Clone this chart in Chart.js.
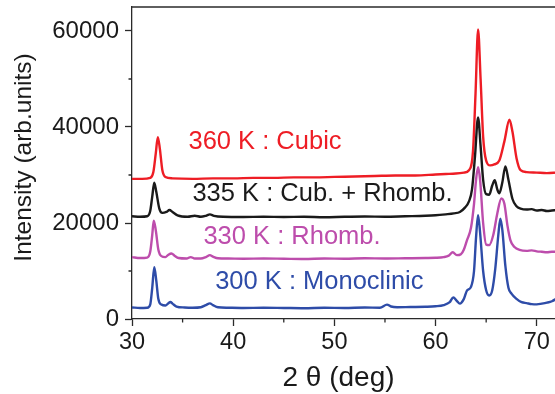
<!DOCTYPE html>
<html>
<head>
<meta charset="utf-8">
<script src="https://cdn.jsdelivr.net/npm/chart.js@4"></script>
<style>
    html, body { margin: 0; padding: 0; background: #fff; overflow: hidden; }
    #cadre { width: 558px; height: 394px; }
</style>
</head>
<body>
<div id="cadre"><canvas id="xrdChart"></canvas></div>
<script>
const angles300 = [30, 30.8, 31.5, 31.8, 32.0, 32.2, 32.4, 32.6, 32.9, 33.3, 33.6, 33.8, 34.0, 34.4, 35.2, 36.0, 36.8, 37.3, 37.7, 38.0, 38.5, 39.5, 41, 43, 45, 47, 49, 51, 53, 54.5, 55.2, 55.6, 56.2, 57.5, 59, 60, 60.8, 61.4, 61.75, 62.1, 62.4, 62.8, 63.1, 63.5, 63.8, 64.0, 64.2, 64.4, 64.7, 65.0, 65.3, 65.6, 65.9, 66.2, 66.4, 66.6, 66.9, 67.2, 67.5, 68.0, 68.5, 69.0, 69.5, 70.0, 70.5, 71.0, 71.5, 72];
const intensite300 = [2400, 2300, 2350, 3000, 6500, 10800, 8000, 4200, 3000, 2800, 3300, 3550, 3200, 2600, 2400, 2350, 2450, 2900, 3250, 2900, 2450, 2350, 2300, 2350, 2300, 2250, 2350, 2300, 2400, 2350, 3000, 2600, 2450, 2500, 2550, 2650, 2900, 3500, 4500, 3800, 3200, 4200, 5900, 6700, 10000, 17000, 21600, 18000, 10000, 6000, 4900, 6000, 10500, 17500, 20900, 18500, 11000, 6500, 5300, 4200, 3500, 3300, 3100, 3050, 3200, 3400, 3700, 4300];

const angles330 = [30, 30.8, 31.5, 31.8, 32.0, 32.15, 32.35, 32.6, 32.9, 33.3, 33.6, 33.9, 34.2, 34.6, 35.4, 35.8, 36.2, 36.8, 37.3, 37.7, 38.0, 38.5, 39.5, 41, 43, 45, 47, 49, 51, 53, 55, 57, 59, 60, 60.8, 61.3, 61.7, 62.1, 62.5, 62.8, 63.1, 63.5, 63.8, 64.0, 64.2, 64.4, 64.7, 65.0, 65.3, 65.7, 66.1, 66.5, 66.8, 67.1, 67.4, 67.8, 68.3, 69, 69.5, 70, 70.5, 71, 71.5, 72];
const intensite330 = [12900, 12700, 12800, 14000, 17500, 20500, 18500, 14500, 13100, 12900, 13400, 13650, 13200, 12700, 12600, 12900, 12600, 12600, 12900, 13300, 13000, 12650, 12600, 12550, 12600, 12550, 12500, 12600, 12550, 12650, 12600, 12650, 12700, 12750, 12900, 13200, 13900, 13300, 13500, 14500, 16400, 19000, 24000, 29000, 31600, 29000, 20000, 15500, 15400, 17500, 22000, 25100, 24000, 19500, 16400, 15000, 14400, 14200, 14300, 14100, 14000, 13900, 14000, 14000];

const angles335 = [30, 30.8, 31.5, 31.8, 32.0, 32.2, 32.4, 32.7, 33.0, 33.4, 33.7, 34.0, 34.5, 35.5, 36.2, 36.8, 37.3, 37.7, 38.1, 39, 41, 43, 45, 47, 49, 51, 53, 55, 57, 59, 60, 61, 61.8, 62.4, 62.9, 63.3, 63.6, 63.9, 64.2, 64.45, 64.7, 65.0, 65.3, 65.6, 65.85, 66.1, 66.3, 66.6, 66.9, 67.2, 67.6, 68.0, 68.4, 69, 69.5, 70, 70.5, 71, 71.5, 72];
const intensite335 = [21400, 21300, 21400, 22500, 25500, 28400, 26500, 23000, 22100, 22300, 22700, 22300, 21600, 21300, 21500, 21300, 21500, 21800, 21500, 21300, 21250, 21300, 21250, 21300, 21200, 21300, 21350, 21300, 21400, 21500, 21600, 21800, 22000, 22300, 23200, 24500, 27000, 34000, 42000, 36000, 29000, 26000, 25900, 27800, 28900, 27000, 26200, 28500, 31800, 29000, 25000, 23500, 23000, 22800, 22900, 22600, 22700, 22500, 22600, 22700];

const angles360 = [30, 31, 31.8, 32.1, 32.35, 32.55, 32.75, 33.0, 33.3, 34, 36, 38, 40, 42, 44, 46, 48, 50, 52, 54, 56, 58, 60, 61, 62, 62.8, 63.3, 63.7, 63.95, 64.2, 64.45, 64.7, 65.0, 65.4, 65.8, 66.3, 66.8, 67.3, 67.6, 68.0, 68.4, 69, 70, 71, 72];
const intensite360 = [29200, 29200, 29400, 30500, 34500, 37900, 35500, 31000, 29600, 29300, 29200, 29300, 29300, 29400, 29400, 29500, 29500, 29600, 29700, 29800, 29900, 29900, 30100, 30200, 30300, 30500, 31000, 35000, 47000, 60300, 50000, 38000, 33000, 32000, 32200, 33000, 37000, 41500, 39000, 33500, 31000, 30600, 30500, 30400, 30500];

const etiquettes = ['300 K : Monoclinic', '330 K : Rhomb.', '335 K : Cub. + Rhomb.', '360 K : Cubic'];
const couleurs = ['#2e4ca8', '#bd4dac', '#1a1a1a', '#ee1d25'];
const ticksX = [30, 35, 40, 45, 50, 55, 60, 65, 70];
const ticksY = [0, 10000, 20000, 30000, 40000, 50000, 60000];
const titreX = '2 θ (deg)';
const titreY = 'Intensity (arb.units)';

// position des légendes dans le repère (2θ, intensité)
const positionsEtiquettes = [[38.22, 7710], [37.06, 17080], [35.97, 26120], [35.58, 36870]];

const police = "'Liberation Sans', Arial, Helvetica, sans-serif";
const couleurAxe = '#2a2a2a';
const couleurTexte = '#1a1a1a';

function serie(angles, valeurs) {
    return angles.map((a, i) => ({ x: a, y: valeurs[i] }));
}

const series = [
    serie(angles300, intensite300),
    serie(angles330, intensite330),
    serie(angles335, intensite335),
    serie(angles360, intensite360)
];

// Cadre supérieur, petites graduations, titres et légendes des courbes
const decorations = {
    id: 'decorations',
    afterDraw(chart) {
        const ctx = chart.ctx;
        const zone = chart.chartArea;
        const sx = chart.scales.x;
        const sy = chart.scales.y;
        ctx.save();
        ctx.strokeStyle = couleurAxe;
        ctx.lineWidth = 1.3;
        ctx.beginPath();
        ctx.moveTo(zone.left, zone.top);
        ctx.lineTo(zone.right + 2, zone.top);
        ctx.stroke();

        ctx.beginPath();
        ticksX.filter(v => v % 10 !== 0).forEach(v => {
            const px = sx.getPixelForValue(v);
            ctx.moveTo(px, zone.bottom);
            ctx.lineTo(px, zone.bottom + 3.5);
        });
        ticksY.filter(v => v % 20000 !== 0).forEach(v => {
            const py = sy.getPixelForValue(v);
            ctx.moveTo(zone.left, py);
            ctx.lineTo(zone.left - 3.5, py);
        });
        ctx.stroke();

        // titres des axes
        ctx.fillStyle = couleurTexte;
        ctx.textAlign = 'center';
        ctx.textBaseline = 'middle';
        ctx.font = '28px ' + police;
        ctx.fillText(titreX, 338.5, 378);
        ctx.save();
        ctx.translate(24, 157.5);
        ctx.rotate(-Math.PI / 2);
        ctx.font = '24.5px ' + police;
        ctx.fillText(titreY, 0, 0);
        ctx.restore();

        ctx.font = '25.5px ' + police;
        ctx.textAlign = 'left';
        etiquettes.forEach((txt, i) => {
            const p = positionsEtiquettes[i];
            ctx.fillStyle = couleurs[i];
            ctx.fillText(txt, sx.getPixelForValue(p[0]), sy.getPixelForValue(p[1]));
        });
        ctx.restore();
    }
};

new Chart(document.getElementById('xrdChart'), {
    type: 'line',
    data: {
        datasets: series.map((d, i) => ({
            label: etiquettes[i],
            data: d,
            borderColor: couleurs[i],
            borderWidth: 2.4,
            pointRadius: 0,
            cubicInterpolationMode: 'monotone',
            fill: false
        }))
    },
    options: {
        responsive: true,
        maintainAspectRatio: false,
        animation: false,
        layout: { padding: { top: 7, right: 1, left: 0, bottom: 0 } },
        plugins: {
            legend: { display: false },
            tooltip: { enabled: false }
        },
        scales: {
            x: {
                type: 'linear',
                min: 30,
                max: 72,
                afterBuildTicks: axe => { axe.ticks = ticksX.map(v => ({ value: v })); },
                afterFit: axe => {
                    axe.height = 75;
                    axe.paddingLeft = 0;
                    axe.paddingRight = 0;
                },
                grid: {
                    drawOnChartArea: false,
                    tickLength: 7,
                    tickWidth: 1.3,
                    tickColor: c => (c.tick && c.tick.value % 10 === 0) ? couleurAxe : 'rgba(0,0,0,0)'
                },
                border: { color: couleurAxe, width: 1.3 },
                ticks: {
                    padding: 2,
                    color: couleurTexte,
                    font: { family: police, size: 23.5 },
                    callback: v => (v % 10 === 0 ? v : '')
                },
                title: { display: false }
            },
            y: {
                min: 0,
                max: 65000,
                afterBuildTicks: axe => { axe.ticks = ticksY.map(v => ({ value: v })); },
                afterFit: axe => {
                    axe.width = 132;
                    axe.paddingTop = 0;
                    axe.paddingBottom = 0;
                },
                grid: {
                    drawOnChartArea: false,
                    tickLength: 7,
                    tickWidth: 1.3,
                    tickColor: c => (c.tick && c.tick.value % 20000 === 0) ? couleurAxe : 'rgba(0,0,0,0)'
                },
                border: { color: couleurAxe, width: 1.3 },
                ticks: {
                    padding: 6,
                    color: couleurTexte,
                    font: { family: police, size: 24 },
                    callback: v => (v % 20000 === 0 ? v : '')
                },
                title: { display: false }
            }
        }
    },
    plugins: [decorations]
});
</script>
</body>
</html>
